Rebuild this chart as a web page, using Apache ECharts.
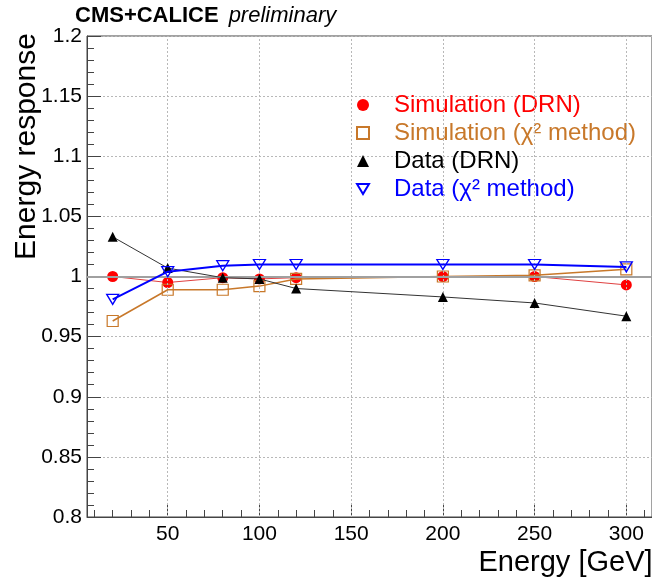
<!DOCTYPE html>
<html>
<head>
<meta charset="utf-8">
<script src="https://cdn.jsdelivr.net/npm/echarts@6/dist/echarts.min.js"></script>
<style>
html,body{margin:0;padding:0;background:#fff;}
#chart{width:652px;height:581px;}
</style>
</head>
<body>
<div id="chart"></div>
<script>
// ---- data ----
var energies = [20, 50, 80, 100, 120, 200, 250, 300];
var simDRN   = [1.000, 0.995, 0.999, 0.998, 0.999, 1.000, 1.000, 0.993];
var simChi2  = [0.963, 0.989, 0.989, 0.992, 0.998, 1.000, 1.001, 1.006];
var dataDRN  = [1.033, 1.007, 0.999, 0.998, 0.990, 0.983, 0.978, 0.967];
var dataChi2 = [0.981, 1.004, 1.009, 1.010, 1.010, 1.010, 1.010, 1.008];
var seriesNames = ['Simulation (DRN)', 'Simulation (\u03C7\u00B2 method)', 'Data (DRN)', 'Data (\u03C7\u00B2 method)'];
var xMajorTicks = [50, 100, 150, 200, 250, 300];
var xMinorTicks = [10, 20, 30, 40, 60, 70, 80, 90, 110, 120, 130, 140, 160, 170, 180, 190, 210, 220, 230, 240, 260, 270, 280, 290, 310];
var xRange = [6, 314];
var yRange = [0.8, 1.2];
var yStep = 0.05;
var referenceLevel = 1;

var FONT = "'Liberation Sans', Arial, Helvetica, sans-serif";
var cRed = '#ff0000', cOrange = '#c8782a', cBlack = '#000000', cBlue = '#0000ff';
var downTri = 'path://M0,0 L10,0 L5,8.5 Z';

function pairs(ys) { return energies.map(function (x, i) { return [x, ys[i]]; }); }

var chart = echarts.init(document.getElementById('chart'), null, {renderer: 'canvas'});
chart.setOption({
  animation: false,
  backgroundColor: '#fff',
  title: {
    left: 75, top: 5, padding: 0,
    text: '{b|CMS+CALICE}  {i|preliminary}',
    textStyle: {
      rich: {
        b: {fontFamily: FONT, fontSize: 22, fontWeight: 'bold', color: '#000'},
        i: {fontFamily: FONT, fontSize: 22, fontStyle: 'italic', fontWeight: 'normal', color: '#000'}
      }
    }
  },
  grid: {left: 87, right: 0, top: 36, bottom: 64, show: true, borderColor: '#444', borderWidth: 1,
         backgroundColor: 'transparent', containLabel: false, outerBoundsMode: 'none'},
  legend: {
    orient: 'vertical', left: 351, top: 88, itemWidth: 12, itemHeight: 12, itemGap: 4,
    selectedMode: false,
    textStyle: {fontFamily: FONT, fontSize: 24, lineHeight: 24, padding: [0, 0, 0, 20]},
    data: [
      {name: seriesNames[0], icon: 'circle', textStyle: {color: cRed}},
      {name: seriesNames[1], icon: 'rect', textStyle: {color: cOrange}},
      {name: seriesNames[2], icon: 'triangle', textStyle: {color: cBlack}},
      {name: seriesNames[3], icon: downTri, textStyle: {color: cBlue}}
    ]
  },
  xAxis: [{
    type: 'value', min: xRange[0], max: xRange[1],
    name: 'Energy [GeV]', nameLocation: 'middle', nameGap: 31, nameMoveOverlap: false,
    nameTextStyle: {fontFamily: FONT, fontSize: 29, color: '#000', padding: [0, 0, 0, 392]},
    axisLine: {show: true, lineStyle: {color: '#444', width: 1}},
    axisTick: {show: true, inside: true, length: 12, customValues: xMajorTicks, lineStyle: {color: '#444'}},
    axisLabel: {show: true, customValues: xMajorTicks, margin: 7, fontFamily: FONT, fontSize: 21, color: '#000'},
    splitLine: {show: false}
  }, {
    type: 'value', min: xRange[0], max: xRange[1], position: 'bottom',
    axisLine: {show: false},
    axisTick: {show: true, inside: true, length: 7, customValues: xMinorTicks, lineStyle: {color: '#444'}},
    axisLabel: {show: false},
    splitLine: {show: false}
  }],
  yAxis: {
    type: 'value', min: yRange[0], max: yRange[1], interval: yStep,
    name: 'Energy response', nameLocation: 'middle', nameGap: 45, nameMoveOverlap: false,
    nameTextStyle: {fontFamily: FONT, fontSize: 30, color: '#000', padding: [0, 0, 0, 260]},
    axisLine: {show: true, lineStyle: {color: '#444', width: 1}},
    axisTick: {show: true, inside: true, length: 14, lineStyle: {color: '#444'}},
    minorTick: {show: true, splitNumber: 5, length: 7, lineStyle: {color: '#444'}},
    axisLabel: {
      margin: 5, fontFamily: FONT, fontSize: 21, color: '#000',
      formatter: function (v) { return String(+v.toFixed(2)); }
    },
    splitLine: {show: true, lineStyle: {color: '#b8b8b8', type: [2, 2], width: 1}}
  },
  series: [
    {
      name: 'grid', type: 'line', data: [], silent: true, z: 1,
      markLine: {
        silent: true, symbol: 'none', label: {show: false}, animation: false,
        lineStyle: {color: '#b8b8b8', type: [2, 2], width: 1},
        data: xMajorTicks.map(function (v) { return {xAxis: v}; })
      }
    },
    {
      name: 'ref', type: 'line', data: [], silent: true, z: 1,
      markLine: {
        silent: true, symbol: 'none', label: {show: false}, animation: false,
        lineStyle: {color: '#a0a0a0', type: 'solid', width: 2},
        data: [{yAxis: referenceLevel}]
      }
    },
    {
      name: seriesNames[0], type: 'line', data: pairs(simDRN), z: 3,
      symbol: 'circle', symbolSize: 11,
      lineStyle: {color: '#e04040', width: 1},
      itemStyle: {color: cRed, borderColor: cRed, borderWidth: 0}
    },
    {
      name: seriesNames[1], type: 'line', data: pairs(simChi2), z: 4,
      symbol: 'rect', symbolSize: 11,
      lineStyle: {color: cOrange, width: 1.5},
      itemStyle: {color: 'transparent', borderColor: cOrange, borderWidth: 1.2}
    },
    {
      name: seriesNames[2], type: 'line', data: pairs(dataDRN), z: 5,
      symbol: 'triangle', symbolSize: 10,
      lineStyle: {color: '#333', width: 1},
      itemStyle: {color: cBlack, borderColor: cBlack, borderWidth: 0}
    },
    {
      name: seriesNames[3], type: 'line', data: pairs(dataChi2), z: 6,
      symbol: downTri, symbolSize: [12, 10],
      lineStyle: {color: cBlue, width: 2},
      itemStyle: {color: 'transparent', borderColor: cBlue, borderWidth: 1.3}
    }
  ]
});
</script>
</body>
</html>
